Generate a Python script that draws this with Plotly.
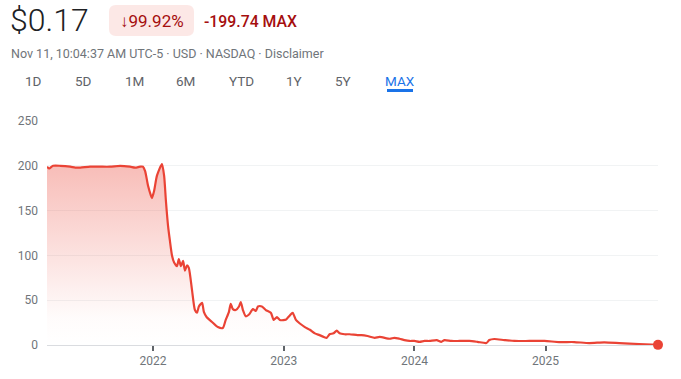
import plotly.graph_objects as go

# ---------------- data ----------------
dates = [
    "2021-03-11", "2021-03-17", "2021-03-28", "2021-04-17", "2021-05-15", "2021-05-29",
    "2021-06-12", "2021-07-09", "2021-08-06", "2021-09-03", "2021-10-01", "2021-10-29",
    "2021-11-12", "2021-11-26", "2021-12-04", "2021-12-10", "2021-12-18", "2021-12-26",
    "2021-12-29", "2022-01-04", "2022-01-12", "2022-01-26", "2022-02-01", "2022-02-06",
    "2022-02-12", "2022-02-17", "2022-02-23", "2022-03-01", "2022-03-09", "2022-03-14",
    "2022-03-20", "2022-03-26", "2022-03-31", "2022-04-06", "2022-04-11", "2022-04-20",
    "2022-04-28", "2022-05-04", "2022-05-09", "2022-05-18", "2022-05-23", "2022-05-31",
    "2022-06-14", "2022-07-01", "2022-07-15", "2022-07-23", "2022-08-01", "2022-08-06",
    "2022-08-12", "2022-08-20", "2022-08-29", "2022-09-03", "2022-09-09", "2022-09-17",
    "2022-09-26", "2022-10-07", "2022-10-15", "2022-10-21", "2022-11-01", "2022-11-12",
    "2022-11-26", "2022-12-04", "2022-12-13", "2022-12-21", "2023-01-04", "2023-01-09",
    "2023-01-18", "2023-01-26", "2023-02-04", "2023-02-15", "2023-03-01", "2023-03-15",
    "2023-03-29", "2023-04-11", "2023-04-23", "2023-05-01", "2023-05-09", "2023-05-20",
    "2023-05-29", "2023-06-06", "2023-06-20", "2023-07-04", "2023-07-26", "2023-08-06",
    "2023-08-23", "2023-09-12", "2023-09-26", "2023-10-24", "2023-11-06", "2023-11-20",
    "2023-12-04", "2023-12-18", "2024-01-01", "2024-01-15", "2024-01-29", "2024-02-12",
    "2024-03-03", "2024-03-16", "2024-03-25", "2024-04-13", "2024-05-06", "2024-06-02",
    "2024-06-25", "2024-07-20", "2024-07-28", "2024-08-11", "2024-09-08", "2024-10-06",
    "2024-11-17", "2024-12-29", "2025-02-08", "2025-03-22", "2025-05-03", "2025-06-14",
    "2025-07-26", "2025-09-19", "2025-11-11",
]
prices = [
    199, 197, 200, 200, 199, 198,
    198, 199, 199, 199, 200, 199,
    198, 199, 199, 194, 178, 167,
    164, 172, 189, 202, 189, 161,
    133, 117, 100, 92, 88, 96,
    88, 94, 83, 89, 86, 61,
    39, 36, 43, 47, 37, 31,
    26, 20, 19, 28, 37, 46,
    40, 39, 43, 48, 39, 32,
    34, 40, 38, 43, 43, 39,
    36, 28, 31, 28, 28, 29,
    33, 36, 28, 24, 20, 17,
    13, 11, 9, 8, 12, 13,
    16, 13, 12, 12, 11, 11,
    10, 8, 9, 7, 8, 7,
    5.5, 4.5, 4.5, 3.5, 4.5, 4.5,
    5.5, 3.5, 5.5, 4.5, 4.5, 4.5,
    3.5, 2.2, 5.5, 6.7, 5.5, 4.5,
    4.5, 4.5, 3.3, 3.3, 2.2, 3.0,
    2.2, 1.1, 0.17,
]
y_ticks = [0, 50, 100, 150, 200, 250]
x_ticks = ["2022-01-01", "2023-01-01", "2024-01-01", "2025-01-01"]
x_tick_labels = ["2022", "2023", "2024", "2025"]
range_buttons = ["1D", "5D", "1M", "6M", "YTD", "1Y", "5Y", "MAX"]
price_text = "$0.17"
pct_text = "↓99.92%"
change_text = "-199.74 MAX"
subtitle_text = "Nov 11, 10:04:37 AM UTC-5 · USD · NASDAQ · Disclaimer"

# ---------------- layout geometry ----------------
W, H = 681, 379
L, R, T, B = 47, 23, 121, 34
PW, PH = W - L - R, H - T - B

def px(x):
    return (x - L) / PW

def py(y):
    return (H - B - y) / PH

RED = "#ea4335"
FONT = "Roboto, Arial, sans-serif"

fig = go.Figure()
fig.add_trace(go.Scatter(
    x=dates, y=prices, mode="lines",
    line=dict(color=RED, width=2.2, shape="spline", smoothing=0.6),
    fill="tozeroy",
    fillgradient=dict(type="vertical", start=0, stop=205,
                      colorscale=[[0, "rgba(234,67,53,0.0)"],
                                  [0.15, "rgba(234,67,53,0.02)"],
                                  [1, "rgba(234,67,53,0.36)"]]),
    hoverinfo="skip", showlegend=False,
))
fig.add_trace(go.Scatter(
    x=[dates[-1]], y=[prices[-1]], mode="markers",
    marker=dict(color=RED, size=10), cliponaxis=False,
    hoverinfo="skip", showlegend=False,
))

annotations = [
    dict(text=price_text, x=px(8), y=py(20), xanchor="left", yanchor="middle",
         font=dict(family=FONT, size=32, color="#202124", weight=300)),
    dict(text=pct_text, x=px(151.5), y=py(21), xanchor="center", yanchor="middle",
         font=dict(family=FONT, size=17, color="#a50e0e")),
    dict(text=change_text, x=px(202), y=py(21), xanchor="left", yanchor="middle",
         font=dict(family=FONT, size=15.8, color="#a50e0e", weight=500)),
    dict(text=subtitle_text, x=px(9), y=py(53), xanchor="left", yanchor="middle",
         font=dict(family=FONT, size=12.5, color="#70757a")),
]
button_x = [33, 83, 134, 185, 241, 294, 343, 400]
for lbl, bx in zip(range_buttons, button_x):
    col = "#1a73e8" if lbl == "MAX" else "#5f6368"
    annotations.append(dict(text=lbl, x=px(bx), y=py(81), xanchor="center", yanchor="middle",
                            font=dict(family=FONT, size=13.5, color=col)))
for a in annotations:
    a.update(xref="paper", yref="paper", showarrow=False)

# rounded pink box
x0, x1, y0, y1, r = px(109), px(194), py(36), py(5), 7
rx, ry = r / PW, r / PH
path = (f"M {x0+rx},{y0} L {x1-rx},{y0} Q {x1},{y0} {x1},{y0+ry} "
        f"L {x1},{y1-ry} Q {x1},{y1} {x1-rx},{y1} L {x0+rx},{y1} "
        f"Q {x0},{y1} {x0},{y1-ry} L {x0},{y0+ry} Q {x0},{y0} {x0+rx},{y0} Z")
shapes = [
    dict(type="path", path=path, xref="paper", yref="paper",
         fillcolor="#fce8e6", line=dict(width=0), layer="below"),
    dict(type="line", xref="paper", yref="paper", x0=px(387), x1=px(413),
         y0=py(90.5), y1=py(90.5), line=dict(color="#1a73e8", width=3)),
]

fig.update_layout(
    width=W, height=H, margin=dict(l=L, r=R, t=T, b=B, autoexpand=False),
    paper_bgcolor="white", plot_bgcolor="white",
    annotations=annotations, shapes=shapes,
    font=dict(family=FONT, color="#70757a"),
    xaxis=dict(range=[dates[0], dates[-1]], tickvals=x_ticks, ticktext=x_tick_labels,
               showgrid=False, zeroline=False, showline=False,
               ticks="outside", ticklen=5, tickwidth=2, tickcolor="#5f6368",
               tickfont=dict(size=12, color="#70757a"), fixedrange=True),
    yaxis=dict(range=[0, 250], tickvals=y_ticks, showgrid=True, gridcolor="#f1f3f4",
               gridwidth=1, zeroline=True, zerolinecolor="#dadce0", zerolinewidth=1,
               showline=False, ticks="", tickfont=dict(size=12, color="#70757a"),
               ticklabelstandoff=8, fixedrange=True),
)

fig.write_html(
    "out.html",
    config={"displayModeBar": False},
    post_script="document.body.style.margin='0';document.body.style.overflow='hidden';",
)
